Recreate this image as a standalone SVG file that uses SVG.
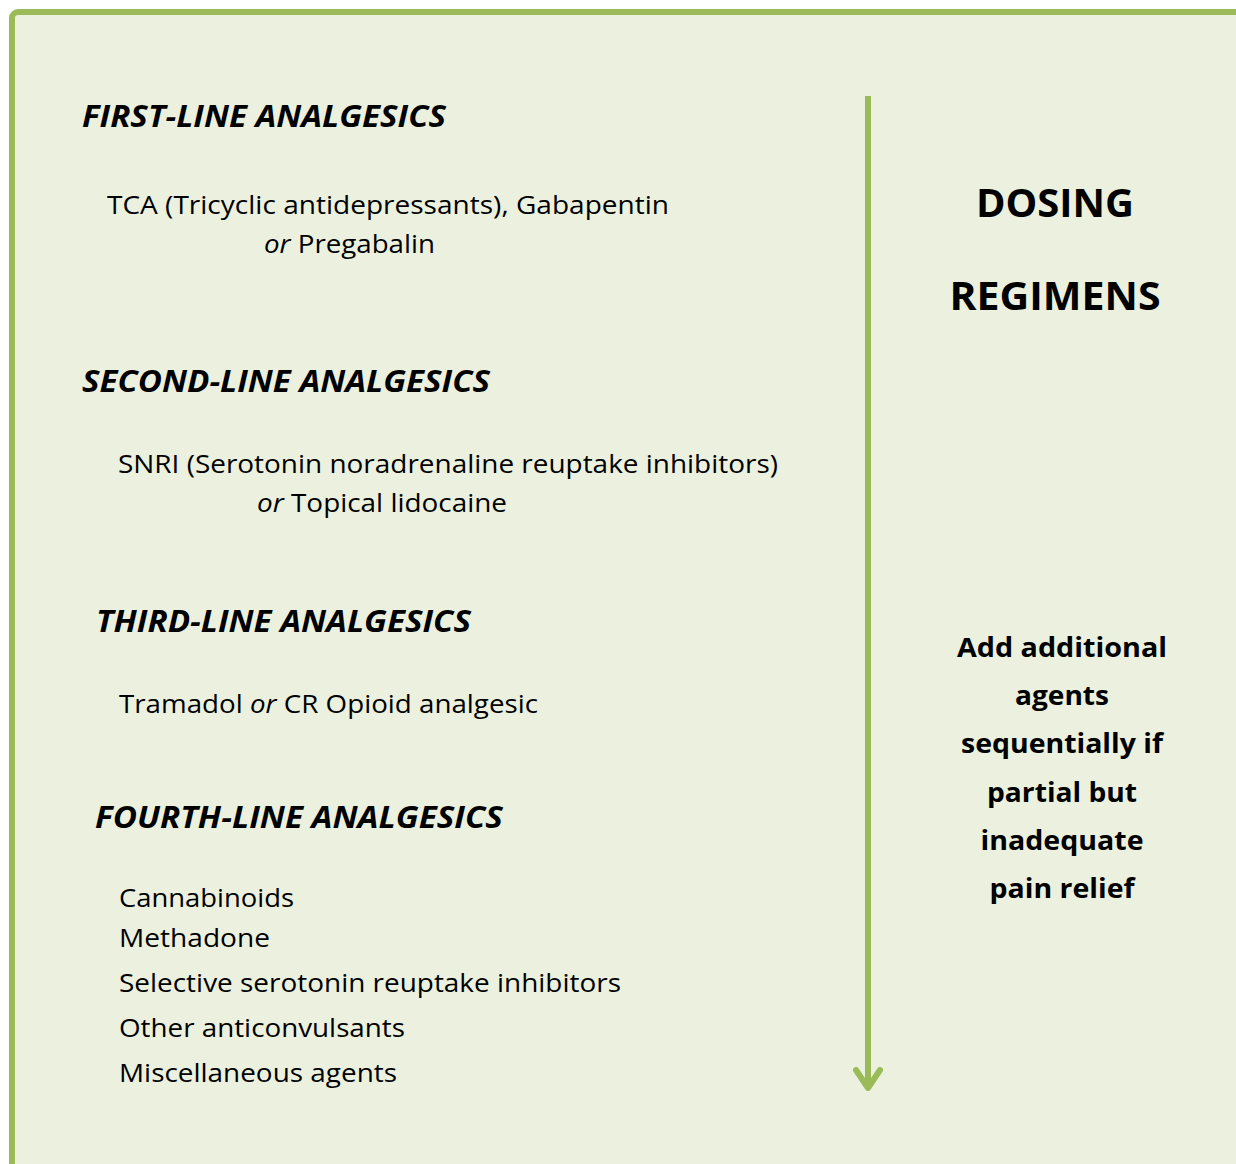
<svg xmlns="http://www.w3.org/2000/svg" width="1236" height="1164" viewBox="0 0 1236 1164">
<style>
text{font-family:"Open Sans","Liberation Sans",sans-serif;fill:#000}
.h{font-weight:bold;font-style:italic;font-size:31px}
.b{font-size:26px}
.i{font-style:italic}
.t{font-weight:bold;font-size:40px;text-anchor:middle}
.r{font-weight:bold;font-size:26px;text-anchor:middle}
</style>
<defs>
<marker id="chev" viewBox="0 0 24 30" refX="21" refY="15" markerWidth="24" markerHeight="30" markerUnits="userSpaceOnUse" orient="auto">
<polyline points="3,3 21,15 3,27" fill="none" stroke="#9bbb59" stroke-width="6" stroke-linecap="round" stroke-linejoin="round"/>
</marker>
</defs>
<rect width="1236" height="1164" fill="#ffffff"/>
<rect id="frame" x="12" y="12" width="1400" height="1400" rx="6" fill="#ebf1de" stroke="#9bbb59" stroke-width="6"/>
<g id="connectors">
<path d="M868,96 V1088" fill="none" stroke="#9bbb59" stroke-width="6" marker-end="url(#chev)"/>
</g>
<g id="first">
<text class="h" x="82" y="127" textLength="364" lengthAdjust="spacingAndGlyphs">FIRST-LINE ANALGESICS</text>
<text class="b" x="107" y="214" textLength="562" lengthAdjust="spacingAndGlyphs">TCA (Tricyclic antidepressants), Gabapentin</text>
<text class="b" x="264" y="253" textLength="171" lengthAdjust="spacingAndGlyphs"><tspan class="i">or</tspan> Pregabalin</text>
</g>
<g id="second">
<text class="h" x="82" y="392" textLength="408" lengthAdjust="spacingAndGlyphs">SECOND-LINE ANALGESICS</text>
<text class="b" x="118" y="473" textLength="660" lengthAdjust="spacingAndGlyphs">SNRI (Serotonin noradrenaline reuptake inhibitors)</text>
<text class="b" x="257" y="512" textLength="250" lengthAdjust="spacingAndGlyphs"><tspan class="i">or</tspan> Topical lidocaine</text>
</g>
<g id="third">
<text class="h" x="96" y="632" textLength="375" lengthAdjust="spacingAndGlyphs">THIRD-LINE ANALGESICS</text>
<text class="b" x="119" y="713" textLength="419" lengthAdjust="spacingAndGlyphs"><tspan>Tramadol </tspan><tspan class="i">or</tspan><tspan> CR Opioid analgesic</tspan></text>
</g>
<g id="fourth">
<text class="h" x="95" y="828" textLength="408" lengthAdjust="spacingAndGlyphs">FOURTH-LINE ANALGESICS</text>
<text class="b" x="119" y="907" textLength="175" lengthAdjust="spacingAndGlyphs">Cannabinoids</text>
<text class="b" x="119" y="947" textLength="151" lengthAdjust="spacingAndGlyphs">Methadone</text>
<text class="b" x="119" y="992" textLength="502" lengthAdjust="spacingAndGlyphs">Selective serotonin reuptake inhibitors</text>
<text class="b" x="119" y="1037" textLength="286" lengthAdjust="spacingAndGlyphs">Other anticonvulsants</text>
<text class="b" x="119" y="1082" textLength="278" lengthAdjust="spacingAndGlyphs">Miscellaneous agents</text>
</g>
<g id="dosing">
<text class="t" x="1055" y="217" textLength="158" lengthAdjust="spacingAndGlyphs">DOSING</text>
<text class="t" x="1055" y="310" textLength="211" lengthAdjust="spacingAndGlyphs">REGIMENS</text>
</g>
<g id="note">
<text class="r" x="1062" y="657" textLength="210" lengthAdjust="spacingAndGlyphs">Add additional</text>
<text class="r" x="1062" y="705" textLength="94" lengthAdjust="spacingAndGlyphs">agents</text>
<text class="r" x="1062" y="753" textLength="202" lengthAdjust="spacingAndGlyphs">sequentially if</text>
<text class="r" x="1062" y="802" textLength="150" lengthAdjust="spacingAndGlyphs">partial but</text>
<text class="r" x="1062" y="850" textLength="163" lengthAdjust="spacingAndGlyphs">inadequate</text>
<text class="r" x="1062" y="898" textLength="145" lengthAdjust="spacingAndGlyphs">pain relief</text>
</g>
</svg>
